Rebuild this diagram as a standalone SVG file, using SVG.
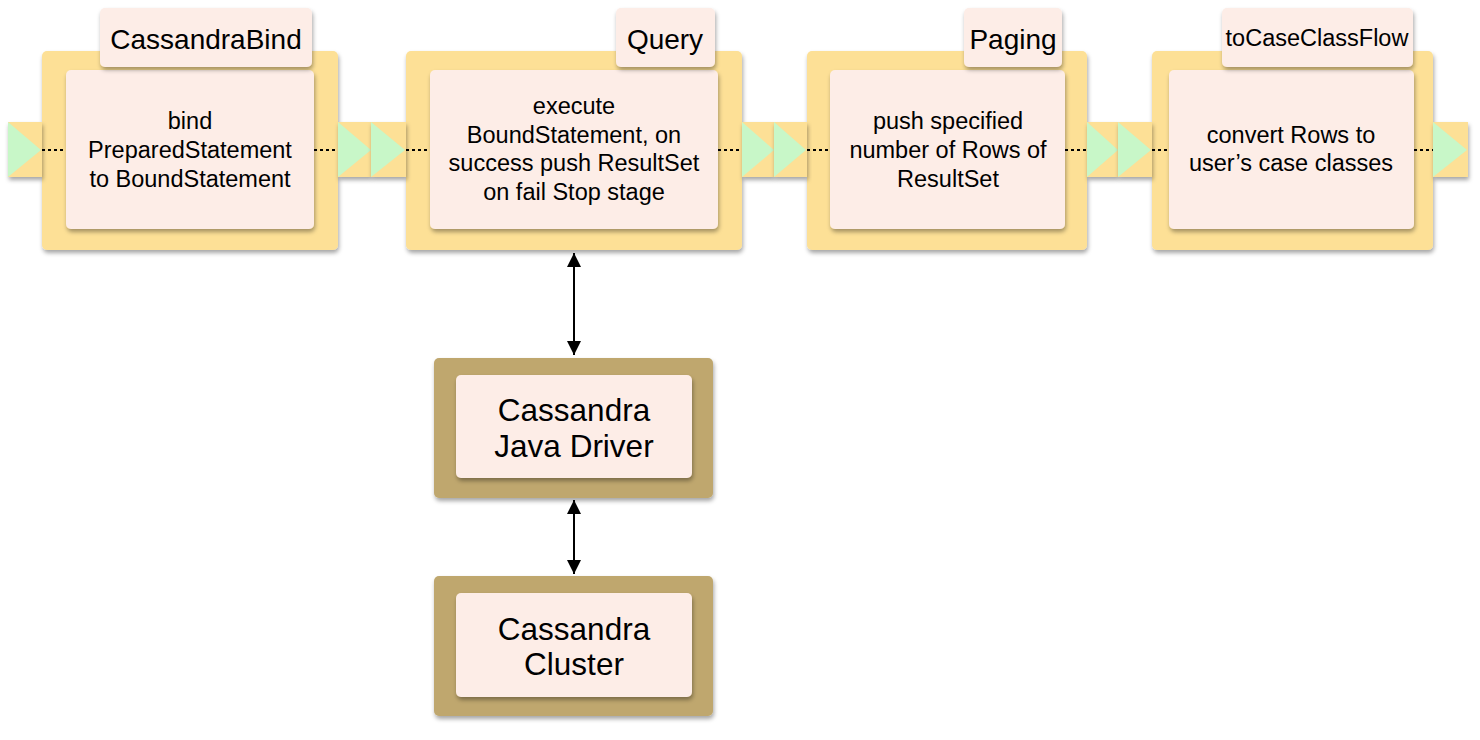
<svg xmlns="http://www.w3.org/2000/svg" width="1480" height="740" viewBox="0 0 1480 740">
<defs>
<filter id="sh" x="-10%" y="-10%" width="125%" height="130%">
<feDropShadow dx="1" dy="3" stdDeviation="2" flood-color="#000" flood-opacity="0.35"/>
</filter>
<marker id="ah" viewBox="0 0 10 10" refX="10" refY="5" markerWidth="14" markerHeight="14" markerUnits="userSpaceOnUse" orient="auto-start-reverse">
<path d="M0,0 L10,5 L0,10 z" fill="#000"/>
</marker>
</defs>
<style>
.outer{fill:#FDE096;filter:url(#sh)}
.inner{fill:#FDEDE7;filter:url(#sh)}
.lab{fill:#FDEDE7;filter:url(#sh)}
.drv{fill:#BFA76E;filter:url(#sh)}
.port{fill:#FDE096;filter:url(#sh)}
.tri{fill:#C8F7C8}
.dot{stroke:#000;stroke-width:2;stroke-dasharray:3,3;fill:none}
.t{font-family:"Liberation Sans",Arial,sans-serif;font-size:23.5px;fill:#000;text-anchor:middle}
.tl{font-family:"Liberation Sans",Arial,sans-serif;font-size:28px;fill:#000;text-anchor:middle}
.tb{font-family:"Liberation Sans",Arial,sans-serif;font-size:31.5px;fill:#000;text-anchor:middle}
.conn{stroke:#000;stroke-width:2;fill:none}
</style>
<g id="stage1">
<rect class="outer" x="42" y="51" width="296" height="199" rx="5"/>
<rect class="port" x="8" y="122" width="34" height="55"/>
<polygon class="tri" points="8,122 41,150 8,177"/>
<rect class="port" x="338" y="122" width="33" height="55"/>
<polygon class="tri" points="338,122 371,150 338,177"/>
<line class="dot" x1="42" y1="150" x2="66" y2="150"/>
<line class="dot" x1="314" y1="150" x2="338" y2="150"/>
<rect class="inner" x="66" y="70" width="248" height="159" rx="5"/>
<rect class="lab" x="100" y="8" width="212" height="59" rx="5"/>
<text class="tl" x="206" y="49">CassandraBind</text>
<text class="t" x="190" y="129">bind</text>
<text class="t" x="190" y="158">PreparedStatement</text>
<text class="t" x="190" y="187">to BoundStatement</text>
</g>
<g id="stage2">
<rect class="outer" x="406" y="51" width="336" height="199" rx="5"/>
<rect class="port" x="371" y="122" width="35" height="55"/>
<polygon class="tri" points="371,122 405,150 371,177"/>
<rect class="port" x="742" y="122" width="32" height="55"/>
<polygon class="tri" points="742,122 774,150 742,177"/>
<line class="dot" x1="406" y1="150" x2="430" y2="150"/>
<line class="dot" x1="718" y1="150" x2="742" y2="150"/>
<rect class="inner" x="430" y="70" width="288" height="159" rx="5"/>
<rect class="lab" x="616" y="8" width="99" height="59" rx="5"/>
<text class="tl" x="665" y="49">Query</text>
<text class="t" x="574" y="114">execute</text>
<text class="t" x="574" y="143">BoundStatement, on</text>
<text class="t" x="574" y="171">success push ResultSet</text>
<text class="t" x="574" y="200">on fail Stop stage</text>
</g>
<g id="stage3">
<rect class="outer" x="807" y="51" width="280" height="199" rx="5"/>
<rect class="port" x="774" y="122" width="33" height="55"/>
<polygon class="tri" points="774,122 806,150 774,177"/>
<rect class="port" x="1087" y="122" width="31" height="55"/>
<polygon class="tri" points="1087,122 1118,150 1087,177"/>
<line class="dot" x1="807" y1="150" x2="830" y2="150"/>
<line class="dot" x1="1065" y1="150" x2="1087" y2="150"/>
<rect class="inner" x="830" y="70" width="235" height="159" rx="5"/>
<rect class="lab" x="964" y="8" width="98" height="59" rx="5"/>
<text class="tl" x="1013" y="49">Paging</text>
<text class="t" x="948" y="129">push specified</text>
<text class="t" x="948" y="158">number of Rows of</text>
<text class="t" x="948" y="187">ResultSet</text>
</g>
<g id="stage4">
<rect class="outer" x="1152" y="51" width="281" height="199" rx="5"/>
<rect class="port" x="1118" y="122" width="34" height="55"/>
<polygon class="tri" points="1118,122 1151,150 1118,177"/>
<rect class="port" x="1433" y="122" width="35" height="55"/>
<polygon class="tri" points="1433,122 1467,150 1433,177"/>
<line class="dot" x1="1152" y1="150" x2="1169" y2="150"/>
<line class="dot" x1="1414" y1="150" x2="1433" y2="150"/>
<rect class="inner" x="1169" y="70" width="245" height="159" rx="5"/>
<rect class="lab" x="1222" y="8" width="191" height="59" rx="5"/>
<text class="t" x="1317" y="46">toCaseClassFlow</text>
<text class="t" x="1291" y="143">convert Rows to</text>
<text class="t" x="1291" y="171">user’s case classes</text>
</g>
<g id="driver">
<rect class="drv" x="434" y="358" width="279" height="140" rx="5"/>
<rect class="inner" x="456" y="375" width="236" height="103" rx="5"/>
<text class="tb" x="574" y="421">Cassandra</text>
<text class="tb" x="574" y="457">Java Driver</text>
</g>
<g id="cluster">
<rect class="drv" x="434" y="576" width="279" height="140" rx="5"/>
<rect class="inner" x="456" y="593" width="236" height="104" rx="5"/>
<text class="tb" x="574" y="640">Cassandra</text>
<text class="tb" x="574" y="675">Cluster</text>
</g>
<g id="connectors">
<line class="conn" x1="574" y1="253" x2="574" y2="355" marker-start="url(#ah)" marker-end="url(#ah)"/>
<line class="conn" x1="574" y1="500" x2="574" y2="574" marker-start="url(#ah)" marker-end="url(#ah)"/>
</g>
</svg>
